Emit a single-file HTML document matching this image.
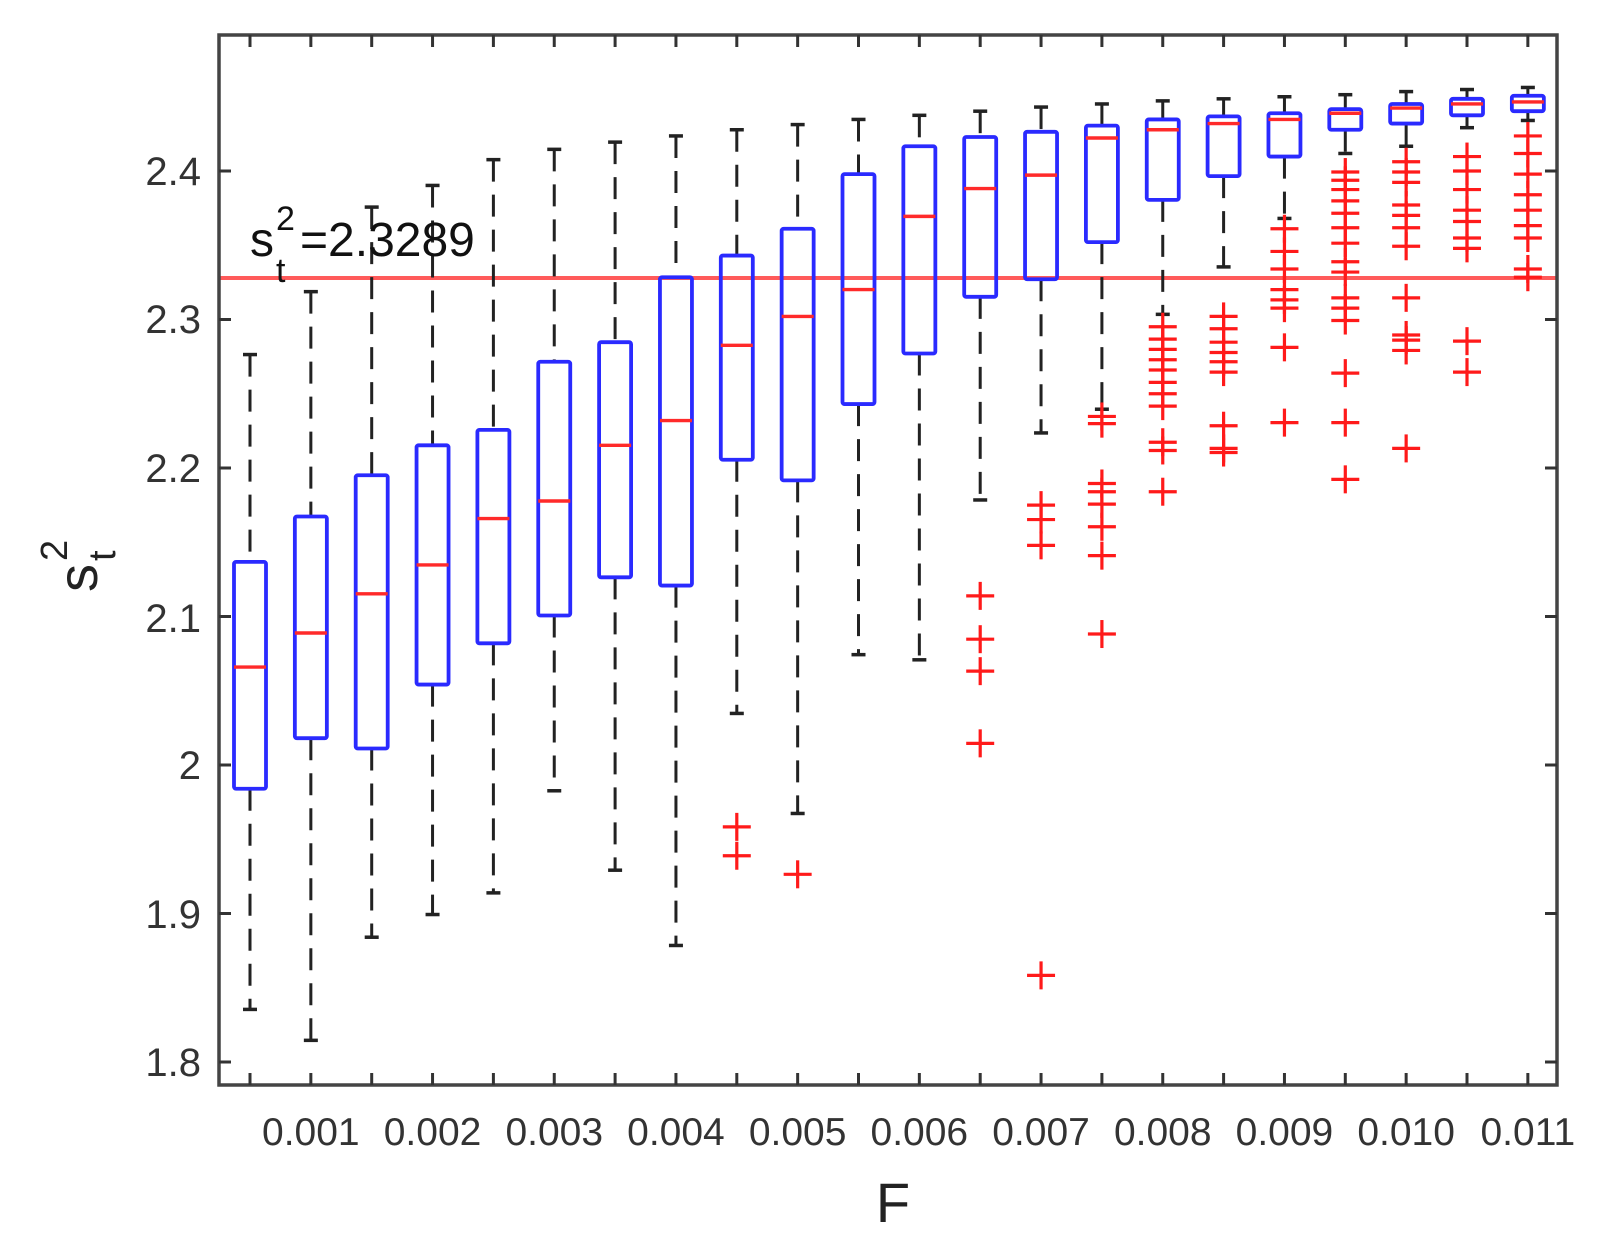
<!DOCTYPE html>
<html><head><meta charset="utf-8"><style>
html,body{margin:0;padding:0;background:#fff;}
svg{display:block;}
text{font-family:"Liberation Sans",Arial,sans-serif;}
</style></head><body>
<svg id="s" width="1613" height="1251" viewBox="0 0 1613 1251" xmlns="http://www.w3.org/2000/svg">
<rect width="1613" height="1251" fill="#fff"/>
<g id="plot"></g>
<g fill="#333" font-size="40">
<text x="201" y="185" text-anchor="end">2.4</text>
<text x="201" y="333" text-anchor="end">2.3</text>
<text x="201" y="482" text-anchor="end">2.2</text>
<text x="201" y="632" text-anchor="end">2.1</text>
<text x="201" y="779" text-anchor="end">2</text>
<text x="201" y="928" text-anchor="end">1.9</text>
<text x="201" y="1076" text-anchor="end">1.8</text>
</g>
<g id="xl" fill="#333" font-size="39" text-anchor="middle"></g>
<text x="893" y="1222" font-size="56" fill="#222" text-anchor="middle">F</text>
<g transform="translate(97,578) rotate(-90)" fill="#222">
<text x="0" y="0" font-size="56" text-anchor="middle">s</text>
<text x="17" y="-30" font-size="38">2</text>
<text x="17" y="18" font-size="38">t</text>
</g>
<g fill="#111">
<text x="250" y="256" font-size="48">s</text>
<text x="276" y="230" font-size="34">2</text>
<text x="276" y="282" font-size="34">t</text>
<text x="300" y="256" font-size="48">=2.3289</text>
</g>
</svg>
<script>
var NS="http://www.w3.org/2000/svg";
var g=document.getElementById('plot');
function el(t,a,p){var e=document.createElementNS(NS,t);for(var k in a)e.setAttribute(k,a[k]);(p||g).appendChild(e);return e;}
function Y(d){return 171+(d-167)*1.03125;}
function X(i){return 250+i*60.85;}
var L=219,R=1557,T=35,B=1085;
var D=[
[345,546,648,766,980,[]],
[284,502,615,717,1010,[]],
[202,462,577,727,910,[]],
[181,433,549,665,888,[]],
[156,418,504,625,867,[]],
[146,352,487,598,768,[]],
[139,333,433,561,845,[]],
[133,270,409,569,918,[]],
[127,249,336,447,693,[803,831]],
[122,223,308,467,790,[849]],
[117,170,282,393,636,[]],
[113,143,211,344,641,[]],
[109,134,184,289,486,[579,621,652,722]],
[105,129,171,272,421,[491,505,530,947]],
[102,123,135,236,398,[405,412,470,478,490,512,540,616]],
[99,117,127,195,306,[318,330,340,350,360,372,383,395,430,438,478]],
[97,114,121,172,260,[308,320,333,343,352,362,414,436,440]],
[95,111,117,153,213,[223,245,262,282,292,300,338,411]],
[93,107,111,127,150,[168,176,185,196,208,222,237,255,265,290,300,312,363,411,466]],
[90,102,106,121,143,[158,168,178,200,210,222,240,290,326,331,341,436]],
[88,97,102,113,125,[153,167,185,205,216,232,242,332,362]],
[86,94,100,109,118,[133,150,170,190,205,220,232,262,270]]
];
el('line',{x1:L,x2:R,y1:278,y2:278,stroke:'#ff5a5a','stroke-width':4});
D.forEach(function(d,i){
  var x=X(i),hw=16;
  var wt=Y(d[0]),q3=Y(d[1]),md=Y(d[2]),q1=Y(d[3]),wb=Y(d[4]);
  el('line',{x1:x,x2:x,y1:wt,y2:q3,stroke:'#222','stroke-width':3,'stroke-dasharray':'22,13'});
  el('line',{x1:x,x2:x,y1:q1,y2:wb,stroke:'#222','stroke-width':3,'stroke-dasharray':'22,13'});
  el('line',{x1:x-7,x2:x+7,y1:wt,y2:wt,stroke:'#222','stroke-width':3.5});
  el('line',{x1:x-7,x2:x+7,y1:wb,y2:wb,stroke:'#222','stroke-width':3.5});
  el('rect',{x:x-hw,y:q3,width:2*hw,height:q1-q3,fill:'none',stroke:'#2a2aff','stroke-width':3.8,rx:2});
  el('line',{x1:x-hw,x2:x+hw,y1:md,y2:md,stroke:'#ff2a2a','stroke-width':3.4});
  d[5].forEach(function(o){var y=Y(o);
    el('line',{x1:x-14,x2:x+14,y1:y,y2:y,stroke:'#ff1a1a','stroke-width':3.2});
    el('line',{x1:x,x2:x,y1:y-14,y2:y+14,stroke:'#ff1a1a','stroke-width':3.2});
  });
});
el('rect',{x:L,y:T,width:R-L,height:B-T,fill:'none',stroke:'#444','stroke-width':3.5});
for(var i=0;i<22;i++){var x=X(i);
  el('line',{x1:x,x2:x,y1:B,y2:B-12,stroke:'#333','stroke-width':3});
  el('line',{x1:x,x2:x,y1:T,y2:T+12,stroke:'#333','stroke-width':3});
}
for(var k=0;k<7;k++){var y=171+k*148.5;
  el('line',{x1:L,x2:L+12,y1:y,y2:y,stroke:'#333','stroke-width':3});
  el('line',{x1:R,x2:R-12,y1:y,y2:y,stroke:'#333','stroke-width':3});
}
var xl=document.getElementById('xl');
for(var n=1;n<=11;n++){var t=el('text',{x:X(2*n-1),y:1145},xl);t.textContent='0.0'+(n<10?'0'+n:n);}
</script>
</body></html>
